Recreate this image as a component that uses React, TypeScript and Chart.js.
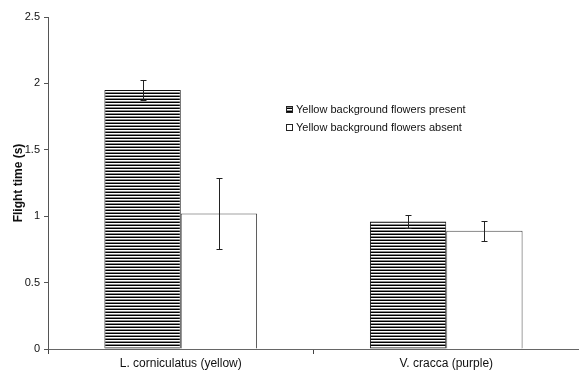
import React, { useEffect, useRef } from "react";
import { Chart, registerables } from "chart.js";

Chart.register(...registerables);

const categories = ["L. corniculatus (yellow)", "V. cracca (purple)"];
const seriesLabels = ["Yellow background flowers present", "Yellow background flowers absent"];
const presentValues = [1.95, 0.96];
const presentErrors = [0.075, 0.05];
const absentValues = [1.02, 0.89];
const absentErrors = [0.27, 0.075];
const yTicks = [0, 0.5, 1, 1.5, 2, 2.5];

function makePattern(): CanvasPattern | string {
  const c = document.createElement("canvas");
  c.width = 4;
  c.height = 3;
  const ctx = c.getContext("2d");
  if (!ctx) return "#555";
  ctx.fillStyle = "#000";
  ctx.fillRect(0, 0, 4, 1);
  ctx.fillStyle = "#fff";
  ctx.fillRect(0, 1, 4, 1);
  ctx.fillStyle = "#8a8a8a";
  ctx.fillRect(0, 2, 4, 1);
  const p = ctx.createPattern(c, "repeat");
  return p || "#555";
}

const FONT = "'Liberation Sans', Arial, sans-serif";

export default function App() {
  const ref = useRef<HTMLCanvasElement | null>(null);

  useEffect(() => {
    if (!ref.current) return;
    const pattern = makePattern();
    const errors = [presentErrors, absentErrors];

    const errorBarPlugin = {
      id: "errorBars",
      afterDatasetsDraw(chart: any) {
        const ctx = chart.ctx;
        const yScale = chart.scales.y;
        ctx.save();
        ctx.strokeStyle = "#222";
        ctx.lineWidth = 1;
        chart.data.datasets.forEach((ds: any, di: number) => {
          const meta = chart.getDatasetMeta(di);
          meta.data.forEach((bar: any, i: number) => {
            const v = ds.data[i];
            const e = errors[di][i];
            const x = Math.round(bar.x) + 0.5;
            const yTop = Math.round(yScale.getPixelForValue(v + e)) + 0.5;
            const yBot = Math.round(yScale.getPixelForValue(v - e)) + 0.5;
            ctx.beginPath();
            ctx.moveTo(x, yTop);
            ctx.lineTo(x, yBot);
            ctx.moveTo(x - 3, yTop);
            ctx.lineTo(x + 3, yTop);
            ctx.moveTo(x - 3, yBot);
            ctx.lineTo(x + 3, yBot);
            ctx.stroke();
          });
        });
        ctx.restore();
      },
    };

    const legendPlugin = {
      id: "customLegend",
      afterDraw(chart: any) {
        const ctx = chart.ctx;
        ctx.save();
        ctx.font = "11px " + FONT;
        ctx.textBaseline = "middle";
        const x0 = 286;
        const y0 = 109;
        chart.data.datasets.forEach((ds: any, i: number) => {
          const y = y0 + i * 18;
          ctx.fillStyle = ds.backgroundColor;
          ctx.fillRect(x0, y - 3, 7, 7);
          ctx.strokeStyle = "#222";
          ctx.lineWidth = 1;
          ctx.strokeRect(x0 + 0.5, y - 3 + 0.5, 6, 6);
          ctx.fillStyle = "#111";
          ctx.fillText(ds.label, x0 + 10, y + 1);
        });
        ctx.restore();
      },
    };

    const chart = new Chart(ref.current, {
      type: "bar",
      data: {
        labels: categories,
        datasets: [
          {
            label: seriesLabels[0],
            data: presentValues,
            backgroundColor: pattern as any,
            borderColor: "#111",
            borderWidth: 1,
            categoryPercentage: 0.575,
            barPercentage: 1,
          },
          {
            label: seriesLabels[1],
            data: absentValues,
            backgroundColor: "#ffffff",
            borderColor: "#444",
            borderWidth: 1,
            categoryPercentage: 0.575,
            barPercentage: 1,
          },
        ],
      },
      options: {
        animation: false,
        responsive: false,
        maintainAspectRatio: false,
        layout: { padding: { top: 17, right: 0, left: 11, bottom: 0 } },
        plugins: {
          legend: { display: false },
          tooltip: { enabled: false },
        },
        scales: {
          x: {
            offset: true,
            border: { display: true, color: "#666", width: 1 },
            grid: {
              display: true,
              offset: true,
              drawOnChartArea: false,
              drawTicks: true,
              tickLength: 5,
              color: "#444",
            },
            ticks: {
              color: "#111",
              padding: 2,
              font: { family: FONT, size: 12 },
            },
            afterFit: (s: any) => {
              s.height = 26;
            },
          },
          y: {
            min: 0,
            max: 2.5,
            afterBuildTicks: (s: any) => {
              s.ticks = yTicks.map((v) => ({ value: v }));
            },
            border: { display: true, color: "#555", width: 1 },
            grid: {
              display: true,
              drawOnChartArea: false,
              drawTicks: true,
              tickLength: 4,
              color: "#555",
            },
            ticks: {
              color: "#111",
              padding: 4,
              font: { family: FONT, size: 11 },
              callback: (v: any) => String(Number(v)),
            },
            title: {
              display: true,
              text: "Flight time (s)",
              color: "#111",
              padding: { top: 0, bottom: 4 },
              font: { family: FONT, size: 12, weight: "bold" },
            },
            afterFit: (s: any) => {
              s.width = 37;
            },
          },
        },
      },
      plugins: [errorBarPlugin, legendPlugin],
    });
    return () => chart.destroy();
  }, []);

  return (
    <div style={{ position: "fixed", left: 0, top: 0, width: 579, height: 375, background: "#fff" }}>
      <canvas ref={ref} width={579} height={375} style={{ width: 579, height: 375, display: "block" }} />
    </div>
  );
}
